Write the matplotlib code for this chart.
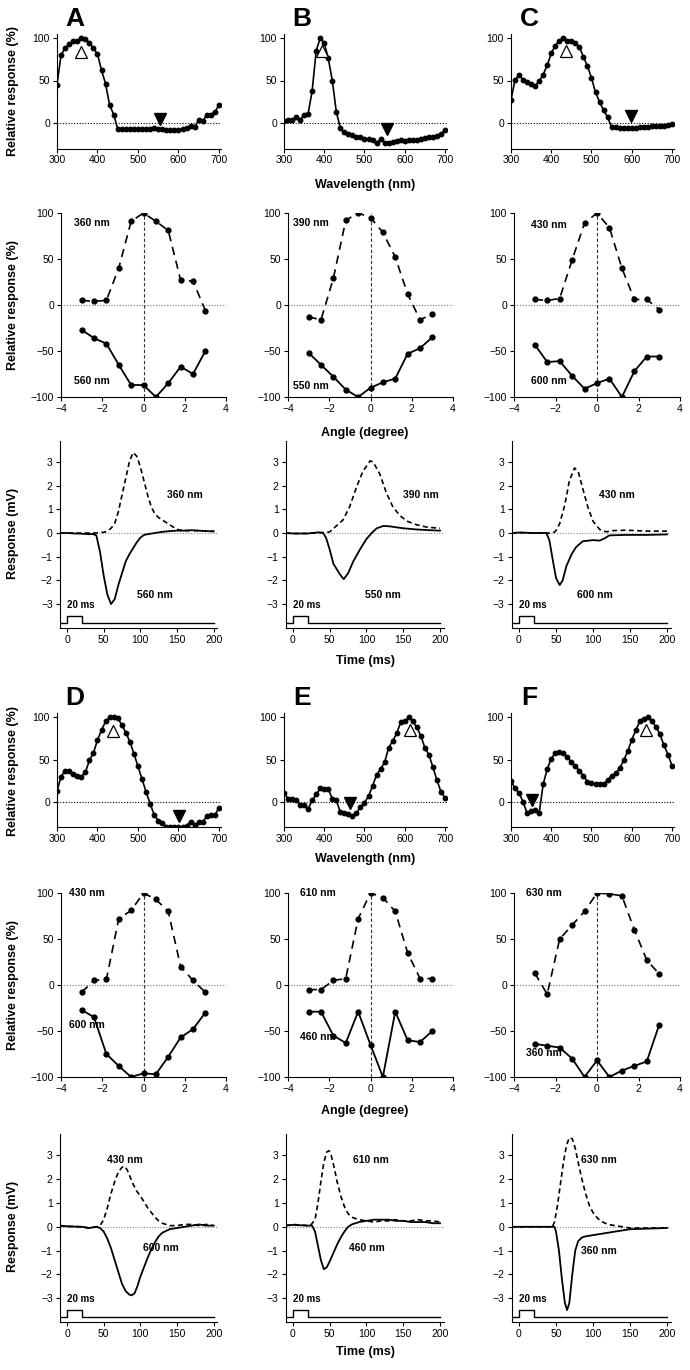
import numpy as np
import matplotlib
matplotlib.use("Agg")
import matplotlib.pyplot as plt

plt.rcParams['font.family'] = ['Liberation Sans', 'DejaVu Sans']

# ---- spectral sensitivity (300-700 nm, 10 nm steps)
wl = list(range(300, 701, 10))
spec_A = [45, 80, 88, 93, 96, 97, 100, 99, 94, 88, 81, 62, 46, 21, 10, -7, -7, -7, -7, -7, -7,
          -7, -7, -7, -6, -7, -7, -8, -8, -8, -8, -7, -6, -4, -5, 4, 2, 10, 10, 13, 21]
spec_B = [2, 4, 3, 7, 4, 9, 11, 38, 85, 100, 94, 76, 50, 13, -6, -11, -13, -14, -16, -17, -19,
          -19, -20, -24, -19, -23, -23, -22, -21, -20, -21, -20, -20, -20, -19, -18, -17, -16, -15, -13, -8]
spec_C = [27, 51, 56, 51, 48, 46, 44, 49, 57, 68, 82, 91, 97, 100, 96, 96, 94, 89, 78, 67, 53,
          36, 25, 15, 7, -5, -5, -6, -6, -6, -6, -6, -5, -5, -5, -4, -4, -3, -3, -2, -1]
spec_D = [13, 30, 37, 37, 33, 31, 30, 35, 49, 58, 73, 85, 95, 100, 100, 99, 91, 82, 71, 57, 42,
          27, 12, -2, -15, -22, -25, -29, -29, -29, -30, -29, -28, -23, -27, -24, -23, -17, -15, -15, -7]
spec_E = [11, 4, 4, 3, -3, -3, -8, 2, 9, 16, 15, 15, 4, 2, -12, -13, -14, -16, -13, -6, -1,
          7, 19, 32, 39, 47, 64, 72, 81, 94, 95, 100, 95, 88, 78, 64, 56, 41, 26, 12, 5]
spec_F = [25, 16, 11, 0, -13, -10, -9, -13, 21, 39, 51, 58, 59, 58, 53, 47, 42, 37, 31, 24, 22,
          21, 21, 21, 26, 31, 34, 40, 49, 60, 73, 85, 95, 98, 100, 95, 89, 80, 67, 56, 43]
# triangle markers (wavelength, level): open = peak, filled = opponent
open_tri = [(360, 84), (394, 85), (437, 85), (438, 84), (612, 85), (635, 85)]
fill_tri = [(555, 5), (555, -7), (599, 8), (602, -16), (465, -1), (352, 2)]

# ---- angular sensitivity
ang = [-3, -2.4, -1.8, -1.2, -0.6, 0, 0.6, 1.2, 1.8, 2.4, 3]
ang_A_on = [5, 4, 5, 40, 91, 100, 91, 81, 27, 26, -6]
ang_A_off = [-27, -36, -42, -65, -87, -87, -100, -85, -67, -75, -50]
ang_B_on = [-13, -16, 29, 92, 100, 95, 79, 52, 12, -16, -10]
ang_B_off = [-52, -65, -78, -92, -100, -90, -84, -80, -53, -47, -35]
ang_C_on = [6, 5, 7, 49, 89, 100, 84, 40, 6, 6, -5]
ang_C_off = [-43, -62, -61, -77, -91, -85, -80, -100, -72, -56, -56]
ang_D_on = [-8, 5, 6, 72, 81, 100, 93, 80, 20, 5, -8]
ang_D_off = [-27, -35, -75, -88, -100, -96, -97, -78, -57, -48, -30]
ang_E_on = [-5, -5, 5, 7, 72, 100, 95, 80, 35, 7, 7]
ang_E_off = [-29, -29, -55, -63, -29, -65, -100, -29, -60, -62, -50]
ang_F_on = [13, -10, 50, 65, 80, 100, 99, 97, 60, 27, 12]
ang_F_off = [-64, -66, -68, -80, -100, -82, -100, -93, -88, -83, -43]

# ---- time responses
tA_on = [-10, 0, 20, 40, 50, 55, 60, 65, 70, 75, 80, 85, 90, 95, 100, 105, 110, 115, 120, 125, 130, 135, 140, 145, 150, 160, 170, 180, 190, 200]
vA_on = [0, 0, 0, 0, 0.03, 0.08, 0.2, 0.4, 0.9, 1.6, 2.3, 3.0, 3.4, 3.25, 2.8, 2.2, 1.6, 1.1, 0.8, 0.65, 0.55, 0.45, 0.35, 0.25, 0.15, 0.1, 0.1, 0.1, 0.08, 0.07]
tA_off = [-10, 0, 10, 20, 30, 35, 40, 45, 50, 55, 60, 65, 70, 75, 80, 85, 90, 95, 100, 105, 110, 120, 130, 140, 150, 160, 170, 180, 190, 200]
vA_off = [0, 0, -0.02, -0.03, -0.05, -0.04, -0.1, -0.8, -1.8, -2.6, -3.0, -2.8, -2.2, -1.7, -1.2, -0.9, -0.65, -0.4, -0.2, -0.08, -0.05, 0, 0.05, 0.08, 0.1, 0.1, 0.12, 0.1, 0.08, 0.07]
tB_on = [-10, 0, 20, 40, 45, 50, 59, 68, 77, 86, 95, 105, 109, 118, 127, 136, 145, 155, 168, 182, 200]
vB_on = [0, -0.02, -0.02, 0.02, 0.02, 0.05, 0.3, 0.55, 1.1, 1.9, 2.6, 3.05, 3.0, 2.5, 1.7, 1.1, 0.75, 0.5, 0.35, 0.25, 0.2]
tB_off = [-10, 0, 20, 35, 41, 45, 50, 55, 64, 69, 75, 82, 91, 100, 107, 114, 123, 132, 150, 168, 186, 200]
vB_off = [0, -0.02, -0.02, 0.03, 0, -0.2, -0.7, -1.3, -1.75, -1.95, -1.7, -1.2, -0.7, -0.25, 0, 0.2, 0.3, 0.28, 0.2, 0.15, 0.12, 0.1]
tC_on = [-10, 0, 20, 40, 46, 50, 55, 62, 68, 75, 80, 86, 93, 100, 109, 118, 127, 145, 172, 200]
vC_on = [0, 0.02, 0, 0, 0, 0.1, 0.4, 1.2, 2.2, 2.75, 2.6, 1.9, 1.1, 0.5, 0.15, 0.05, 0.1, 0.12, 0.08, 0.08]
tC_off = [-10, 0, 20, 37, 41, 46, 50, 55, 59, 64, 71, 77, 86, 100, 109, 116, 122, 145, 172, 200]
vC_off = [0, 0.02, 0, 0, -0.3, -1.2, -1.9, -2.2, -2.0, -1.4, -0.9, -0.6, -0.35, -0.3, -0.32, -0.22, -0.1, -0.08, -0.08, -0.06]
tD_on = [-10, 0, 20, 30, 40, 45, 50, 55, 60, 65, 70, 75, 78, 82, 86, 90, 95, 100, 105, 110, 115, 120, 125, 130, 140, 150, 160, 170, 180, 190, 200]
vD_on = [0.05, 0.02, 0, -0.05, 0, 0.05, 0.3, 0.8, 1.4, 1.9, 2.3, 2.5, 2.55, 2.4, 2.1, 1.8, 1.5, 1.3, 1.05, 0.8, 0.6, 0.4, 0.25, 0.15, 0.05, 0.05, 0.1, 0.1, 0.05, 0.1, 0.05]
tD_off = [-10, 0, 20, 30, 40, 45, 50, 55, 60, 65, 70, 75, 80, 85, 88, 92, 96, 100, 105, 110, 115, 120, 125, 130, 140, 150, 160, 170, 180, 190, 200]
vD_off = [0.05, 0.02, 0, -0.05, 0, -0.05, -0.2, -0.5, -0.9, -1.4, -1.9, -2.4, -2.7, -2.85, -2.88, -2.8, -2.5, -2.1, -1.7, -1.3, -0.95, -0.65, -0.4, -0.25, -0.1, -0.05, 0, 0.05, 0.1, 0.05, 0.05]
tE_on = [-10, 0, 20, 25, 30, 34, 38, 42, 46, 49, 52, 56, 60, 65, 70, 75, 80, 90, 100, 110, 120, 130, 140, 150, 160, 170, 180, 190, 200]
vE_on = [0.05, 0.1, 0.05, 0.1, 0.3, 1.0, 1.9, 2.7, 3.15, 3.2, 3.0, 2.5, 1.9, 1.3, 0.85, 0.55, 0.4, 0.3, 0.25, 0.2, 0.25, 0.25, 0.3, 0.25, 0.25, 0.3, 0.25, 0.25, 0.2]
tE_off = [-10, 0, 20, 26, 30, 34, 38, 42, 46, 50, 55, 60, 65, 70, 75, 80, 90, 100, 110, 120, 130, 140, 150, 160, 170, 180, 190, 200]
vE_off = [0.05, 0.08, 0.05, 0.05, -0.2, -0.8, -1.4, -1.78, -1.7, -1.45, -1.1, -0.75, -0.45, -0.2, 0.0, 0.1, 0.2, 0.25, 0.3, 0.3, 0.3, 0.25, 0.25, 0.2, 0.2, 0.2, 0.15, 0.15]
tF_on = [-10, 0, 20, 45, 48, 52, 56, 60, 64, 68, 72, 76, 80, 85, 90, 95, 100, 105, 110, 120, 130, 140, 150, 170, 200]
vF_on = [0, 0, 0, 0, 0.2, 0.9, 1.8, 2.7, 3.4, 3.75, 3.7, 3.3, 2.7, 2.0, 1.4, 0.9, 0.6, 0.4, 0.25, 0.1, 0.05, 0, -0.05, -0.05, -0.05]
tF_off = [-10, 0, 20, 48, 50, 54, 58, 62, 65, 68, 72, 76, 80, 85, 90, 100, 110, 120, 130, 140, 150, 170, 200]
vF_off = [0, 0, 0, 0, -0.2, -1.0, -2.2, -3.2, -3.5, -3.2, -2.0, -1.0, -0.6, -0.45, -0.4, -0.35, -0.3, -0.25, -0.2, -0.15, -0.1, -0.08, -0.05]
stim_t = [-10, 0, 0, 20, 20, 200]
stim_v = [-3.8, -3.8, -3.5, -3.5, -3.8, -3.8]

letters = ['A', 'B', 'C', 'D', 'E', 'F']
on_nm = ['360 nm', '390 nm', '430 nm', '430 nm', '610 nm', '630 nm']
off_nm = ['560 nm', '550 nm', '600 nm', '600 nm', '460 nm', '360 nm']

W, H = 690, 1370
fig = plt.figure(figsize=(6.9, 13.7), dpi=100)


def box(l, t, r, b):
    return [l / W, 1 - b / H, (r - l) / W, (b - t) / H]


def style(ax):
    for s in ['top', 'right']:
        ax.spines[s].set_visible(False)
    ax.tick_params(labelsize=7.5, length=3, width=0.8, pad=2)


spec_cols = [(57, 221), (284, 447), (511, 674)]
ang_cols = [(61, 226), (288, 453), (514, 680)]
time_cols = [(59.7, 217.3), (285.6, 443.7), (511.6, 670.7)]
spec_rows = [(33.75, 148.5), (713, 827.5)]
ang_rows = [(213, 397), (893, 1077)]
time_rows = [(440.7, 627.7), (1134, 1322)]

specs = [spec_A, spec_B, spec_C, spec_D, spec_E, spec_F]
angs = [(ang_A_on, ang_A_off), (ang_B_on, ang_B_off), (ang_C_on, ang_C_off),
        (ang_D_on, ang_D_off), (ang_E_on, ang_E_off), (ang_F_on, ang_F_off)]
times = [(tA_on, vA_on, tA_off, vA_off), (tB_on, vB_on, tB_off, vB_off), (tC_on, vC_on, tC_off, vC_off),
         (tD_on, vD_on, tD_off, vD_off), (tE_on, vE_on, tE_off, vE_off), (tF_on, vF_on, tF_off, vF_off)]

# label positions (data coords)
ang_on_lab = [(-3.37, 89), (-3.76, 89), (-3.2, 87), (-3.6, 100), (-3.4, 100), (-3.4, 100)]
ang_off_lab = [(-3.37, -83), (-3.76, -88), (-3.2, -83), (-3.6, -43), (-3.4, -57), (-3.4, -74)]
time_on_lab = [(136, 1.6), (150, 1.6), (108, 1.6), (55, 2.8), (82, 2.8), (84, 2.8)]
time_off_lab = [(95, -2.6), (98, -2.6), (78, -2.6), (104, -0.9), (76, -0.9), (84, -1.0)]

for i in range(6):
    g, c = divmod(i, 3)
    # spectral
    ax = fig.add_axes(box(spec_cols[c][0], spec_rows[g][0], spec_cols[c][1], spec_rows[g][1]))
    style(ax)
    ax.axhline(0, color='black', lw=0.8, ls=(0, (1, 1.5)))
    ax.plot(wl, specs[i], color='black', lw=1.2, marker='o', ms=3.2)
    ax.plot(*open_tri[i], marker='^', ms=8, mfc='white', mec='black', mew=0.9)
    ax.plot(*fill_tri[i], marker='v', ms=8, color='black')
    ax.set_xlim(300, 705)
    ax.set_ylim(-30, 105)
    ax.set_xticks([300, 400, 500, 600, 700])
    ax.set_yticks([0, 50, 100])
    fig.text((spec_cols[c][0] + 18) / W, 1 - (spec_rows[g][0] - 15) / H, letters[i],
             fontsize=19, fontweight='bold', ha='center', va='center')

    # angular
    ax = fig.add_axes(box(ang_cols[c][0], ang_rows[g][0], ang_cols[c][1], ang_rows[g][1]))
    style(ax)
    ax.axhline(0, color='#777777', lw=0.8, ls=(0, (1, 1.5)))
    ax.axvline(0, color='#333333', lw=0.8, ls=(0, (3, 2)))
    ax.plot(ang, angs[i][0], color='black', lw=1.2, ls=(0, (5, 3.5)), marker='o', ms=3.5)
    ax.plot(ang, angs[i][1], color='black', lw=1.3, marker='o', ms=3.5)
    ax.set_xlim(-4, 4)
    ax.set_ylim(-100, 100)
    ax.set_xticks([-4, -2, 0, 2, 4])
    ax.set_yticks([-100, -50, 0, 50, 100])
    ax.text(*ang_on_lab[i], on_nm[i], fontsize=7.5, fontweight='bold', ha='left', va='center')
    ax.text(*ang_off_lab[i], off_nm[i], fontsize=7.5, fontweight='bold', ha='left', va='center')

    # time
    ax = fig.add_axes(box(time_cols[c][0], time_rows[g][0], time_cols[c][1], time_rows[g][1]))
    style(ax)
    t_on, v_on, t_off, v_off = times[i]
    ax.axhline(0, color='#888888', lw=0.8, ls=(0, (1, 1.5)))
    ax.plot(t_on, v_on, color='black', lw=1.2, ls=(0, (3, 2)))
    ax.plot(t_off, v_off, color='black', lw=1.3)
    ax.plot(stim_t, stim_v, color='black', lw=1.0)
    ax.text(0, -3.05, '20 ms', fontsize=7, fontweight='bold', ha='left', va='center')
    ax.set_xlim(-10, 205)
    ax.set_ylim(-4, 3.9)
    ax.set_xticks([0, 50, 100, 150, 200])
    ax.set_yticks([-3, -2, -1, 0, 1, 2, 3])
    ax.text(*time_on_lab[i], on_nm[i], fontsize=7.5, fontweight='bold', ha='left', va='center')
    ax.text(*time_off_lab[i], off_nm[i], fontsize=7.5, fontweight='bold', ha='left', va='center')


def ftext(x, y, s, **kw):
    fig.text(x / W, 1 - y / H, s, ha='center', va='center', fontweight='bold', **kw)


for g in range(2):
    off = 0 if g == 0 else 680
    ftext(13, 91 + off, 'Relative response (%)', fontsize=9, rotation=90)
    ftext(13, 305 + off, 'Relative response (%)', fontsize=9, rotation=90)
    ftext(13, 533 + off * 1.02, 'Response (mV)', fontsize=9, rotation=90)
    ftext(365, 185 + off - (6 if g else 0), 'Wavelength (nm)', fontsize=9)
ftext(365, 433, 'Angle (degree)', fontsize=9)
ftext(365, 1111, 'Angle (degree)', fontsize=9)
ftext(365, 1352, 'Time (ms)', fontsize=9)
ftext(365, 661, 'Time (ms)', fontsize=9)

fig.savefig('out.png', dpi=100)
